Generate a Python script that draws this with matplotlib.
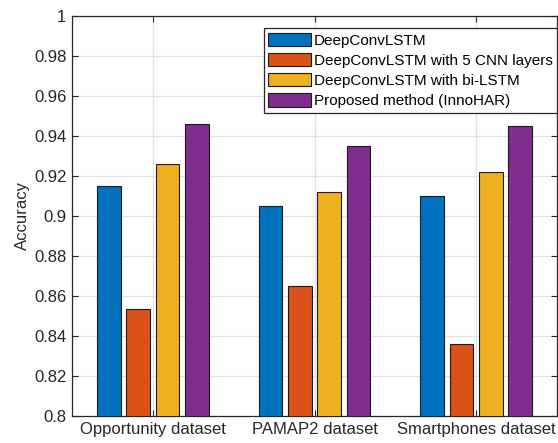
import numpy as np
import matplotlib
matplotlib.use("Agg")
import matplotlib.pyplot as plt

plt.rcParams["font.family"] = ["Liberation Sans", "DejaVu Sans"]

# data
datasets = ["Opportunity dataset", "PAMAP2 dataset", "Smartphones dataset"]
methods = ["DeepConvLSTM", "DeepConvLSTM with 5 CNN layers",
           "DeepConvLSTM with bi-LSTM", "Proposed method (InnoHAR)"]
deepconv = [0.915, 0.905, 0.910]
deepconv_5cnn = [0.8533, 0.865, 0.836]
deepconv_bilstm = [0.926, 0.912, 0.922]
innohar = [0.946, 0.935, 0.945]
colors = ["#0072BD", "#D95319", "#EDB120", "#7E2F8E"]

series = [deepconv, deepconv_5cnn, deepconv_bilstm, innohar]

fig = plt.figure(figsize=(5.58, 4.43), dpi=100)
ax = fig.add_axes([72 / 558, 1 - 416 / 443, 485 / 558, 400 / 443])

x = np.arange(1, len(datasets) + 1)
n = len(series)
group_w = min(0.8, n / (n + 1.5))
step = group_w / n
for i, (vals, c, lab) in enumerate(zip(series, colors, methods)):
    off = (i - (n - 1) / 2) * step
    ax.bar(x + off, vals, width=step * 0.8, color=c, edgecolor="#1a1a1a",
           linewidth=0.8, label=lab, zorder=3)

ax.set_xlim(0.5, 3.5)
ax.set_ylim(0.8, 1.0)
ax.set_xticks(x)
ax.set_xticklabels(datasets)
yt = np.round(np.arange(0.8, 1.0001, 0.02), 2)
ax.set_yticks(yt)
ax.set_yticklabels([("%g" % v) for v in yt])
ax.set_ylabel("Accuracy", fontsize=12, color="#262626", labelpad=3)

ax.grid(True, color="#e3e3e3", linewidth=0.9, zorder=0)
ax.set_axisbelow(True)
ax.tick_params(direction="in", top=True, right=True, length=4, width=0.8,
               colors="#262626", labelsize=12, pad=4)
for s in ax.spines.values():
    s.set_color("#262626")
    s.set_linewidth(0.9)

leg = ax.legend(loc="upper right", bbox_to_anchor=(1.0, 0.97), borderaxespad=0,
                fancybox=False, framealpha=1, edgecolor="#262626", fontsize=11,
                handlelength=2.8, handleheight=1.0, handletextpad=0.15,
                labelspacing=0.33, borderpad=0.3)
leg.get_frame().set_linewidth(0.9)

fig.savefig("out.png", dpi=100)
